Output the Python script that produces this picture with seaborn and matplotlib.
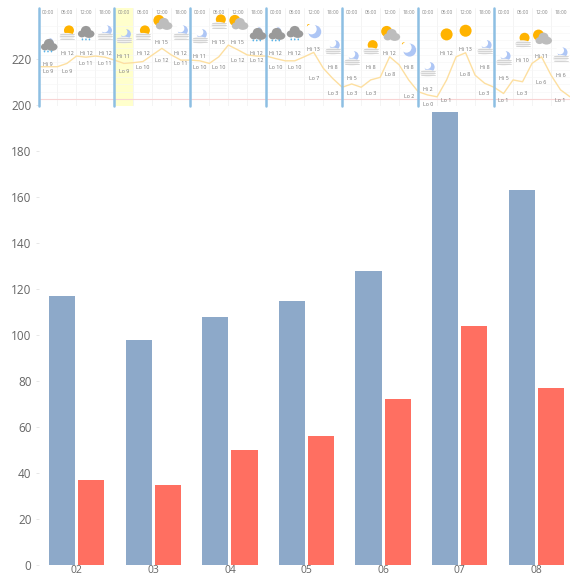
import matplotlib
matplotlib.use('Agg')
import matplotlib.pyplot as plt
from matplotlib.patches import Ellipse
import pandas as pd
import seaborn as sns

months = ['02', '03', '04', '05', '06', '07', '08']
blue_values = [117, 98, 108, 115, 128, 197, 163]
red_values = [37, 35, 50, 56, 72, 104, 77]
y_ticks = [0, 20, 40, 60, 80, 100, 120, 140, 160, 180, 200, 220]

# weather strip, 7 days with 4 slots each
slot_times = ['00:00', '06:00', '12:00', '18:00']
hi_temps = [9, 12, 12, 12, 11, 12, 15, 12, 11, 15, 15, 12, 12, 12, 13, 8,
            5, 8, 12, 8, 2, 12, 13, 8, 5, 10, 11, 6]
lo_temps = [9, 9, 11, 11, 9, 10, 12, 11, 10, 10, 12, 12, 10, 10, 7, 3,
            3, 3, 8, 2, 0, 1, 8, 3, 1, 3, 6, 1]
icons = ['moon_rain', 'sun_fog', 'cloud_rain', 'moon_fog',
         'moon_fog', 'sun_fog', 'sun_cloud', 'moon_fog',
         'moon_fog', 'sun_fog', 'sun_cloud', 'moon_rain',
         'moon_rain', 'cloud_rain', 'moon_clear', 'moon_fog',
         'moon_fog', 'sun_fog', 'sun_cloud', 'moon_clear',
         'moon_fog', 'sun', 'sun', 'moon_fog',
         'moon_fog', 'sun_fog', 'sun_cloud', 'moon_fog']
# temperature every half slot
line_temps = [8.8, 8.8, 8.8, 9.7, 11.7, 11.4, 11.7, 11.4,
              10.6, 9.7, 9.9, 10.2, 12, 13.8, 12, 10.6,
              10.6, 10.4, 9.7, 11.5, 14.7, 13.4, 12, 11.7,
              11.7, 11, 10.4, 10.4, 11.5, 12.7, 8.4, 5.6,
              3.2, 4.1, 3.2, 5.2, 5.9, 11.5, 9.3, 5.2,
              2, 1.1, 0.6, 5.2, 11.5, 12.6, 6.5, 4.3,
              3.2, 1.5, 5.2, 4.7, 9.7, 11.5, 6.5, 2.5, 0.6]

W, H = 570, 576
PX_Y = 1 / 3.67
PX_X = 28 / 531.5

sns.set_style('white')
plt.rcParams['font.family'] = ['Open Sans', 'DejaVu Sans']

fig = plt.figure(figsize=(W / 100, H / 100), dpi=100)
ax = fig.add_axes([38.5 / W, 11 / H, 536 / W, 557 / H])

df = pd.DataFrame({'month': months, 'blue': blue_values, 'red': red_values})
df = df.melt(id_vars='month', var_name='series', value_name='value')
sns.barplot(data=df, x='month', y='value', hue='series', ax=ax, legend=False,
            palette={'blue': '#8DA9C9', 'red': '#FF6F61'}, saturation=1,
            width=0.76, gap=0.1, linewidth=0)
ax.set_xlim(-0.5, 6.5)
ax.set_ylim(0, 242.2)
ax.set_yticks(y_ticks)
ax.set_xlabel('')
ax.set_ylabel('')
ax.tick_params(axis='y', length=2, width=0.5, color='#DDDDDD', labelcolor='#666666',
               labelsize=8.5, pad=3, left=True)
ax.tick_params(axis='x', length=0, labelcolor='#666666', labelsize=7.5, pad=0)
sns.despine(ax=ax, left=True, bottom=True)


def blob(strip, x, y, w, h, color, z=4):
    # x, y are slots and degrees, w, h are pixels
    strip.add_patch(Ellipse((x, y), w * PX_X, h * PX_Y, color=color, lw=0, zorder=z))


def draw_cloud(strip, x, y, color):
    blob(strip, x - 4 * PX_X, y - 1.5 * PX_Y, 8, 7, color, 5)
    blob(strip, x + 3 * PX_X, y - 1.5 * PX_Y, 11, 8, color, 5)
    blob(strip, x, y + 2 * PX_Y, 10, 9, color, 5)


def draw_fog(strip, x, y):
    blob(strip, x, y, 15, 7, '#F0F0F0', 5)
    for dy in (-2.2, 0, 2.2):
        strip.plot([x - 7 * PX_X, x + 7 * PX_X], [y + dy * PX_Y] * 2, color='#C8C8C8', lw=0.5, zorder=6)


def draw_moon(strip, x, y, size=11, back='#FFFFFF'):
    blob(strip, x, y, size, size, '#AEC6F5', 4)
    blob(strip, x - 0.25 * size * PX_X, y + 0.2 * size * PX_Y, size * 0.8, size * 0.8, back, 4.5)


def draw_rain(strip, x, y):
    for dx in (-3.5, 0, 3.5):
        blob(strip, x + dx * PX_X, y, 1.6, 2, '#5AB4E8', 6)


def draw_icon(strip, kind, x, y, back):
    # x in slots, y in degrees, sizes in pixels
    if kind == 'sun':
        blob(strip, x, y, 12, 12, '#FFB300')
    elif kind == 'sun_fog':
        blob(strip, x + 2 * PX_X, y + 4 * PX_Y, 10, 10, '#FFB300')
        draw_fog(strip, x, y - 2 * PX_Y)
    elif kind == 'sun_cloud':
        blob(strip, x - 3 * PX_X, y + 3 * PX_Y, 11, 11, '#FFB300')
        draw_cloud(strip, x + 2 * PX_X, y - PX_Y, '#BDBDBD')
    elif kind == 'cloud_rain':
        draw_cloud(strip, x, y + 2 * PX_Y, '#9A9A9A')
        draw_rain(strip, x, y - 5 * PX_Y)
    elif kind == 'moon_rain':
        draw_moon(strip, x + 1 * PX_X, y + 3 * PX_Y, 9, back)
        draw_cloud(strip, x + 1 * PX_X, y, '#9A9A9A')
        draw_rain(strip, x, y - 6 * PX_Y)
    elif kind == 'moon_fog':
        draw_moon(strip, x + 2 * PX_X, y + 4 * PX_Y, 10, back)
        draw_fog(strip, x, y - 2 * PX_Y)
    elif kind == 'moon_clear':
        draw_moon(strip, x + 1 * PX_X, y - PX_Y, 13, back)
        blob(strip, x - 5 * PX_X, y + 5 * PX_Y, 3.5, 3.5, '#FFB300')


# strip drawn on top of the chart
strip = fig.add_axes([38.5 / W, 1 - 106 / H, 531.5 / W, 98 / H])
strip.set_facecolor('#FFFFFF')
strip.set_xticks([])
strip.set_yticks([])
for spine in strip.spines.values():
    spine.set_visible(False)

n_slots = len(hi_temps)
highlight_slot = 4
strip.axvspan(highlight_slot, highlight_slot + 1, color='#FFFFCC', lw=0, zorder=0)
for s in range(n_slots):
    strip.axvline(s, color='#F0F0F0', lw=0.5, zorder=1)
for t in range(2, 21, 2):
    strip.axhline(t, color='#F6F6F6', lw=0.4, zorder=1)
strip.axhline(0, color='#F8D4D4', lw=0.8, zorder=1)
for s in range(0, n_slots, 4):
    strip.axvline(s, color='#8DBFE3', lw=1.8, zorder=3, clip_on=False)

line_df = pd.DataFrame({'slot': [i / 2 for i in range(len(line_temps))], 'temp': line_temps})
sns.lineplot(data=line_df, x='slot', y='temp', ax=strip, color='#FDDFA0', lw=1, zorder=2)
strip.set_xlabel('')
strip.set_ylabel('')

for s in range(n_slots):
    x = s + 0.5
    strip.text(x, 0.955, slot_times[s % 4], transform=strip.get_xaxis_transform(),
               ha='center', va='center', fontsize=3.5, color='#888888')
    strip.text(x, hi_temps[s] + 0.5, 'Hi ' + str(hi_temps[s]), ha='center', va='center',
               fontsize=3.9, color='#777777', zorder=7)
    strip.text(x, lo_temps[s] - 1.4, 'Lo ' + str(lo_temps[s]), ha='center', va='center',
               fontsize=3.9, color='#777777', zorder=7)
    back = '#FFFFCC' if s == highlight_slot else '#FFFFFF'
    draw_icon(strip, icons[s], x, hi_temps[s] + 5.6, back)

strip.set_xlim(0, 28)
strip.set_ylim(-7 * PX_Y, 91 * PX_Y)

fig.savefig('out.png', dpi=100)
